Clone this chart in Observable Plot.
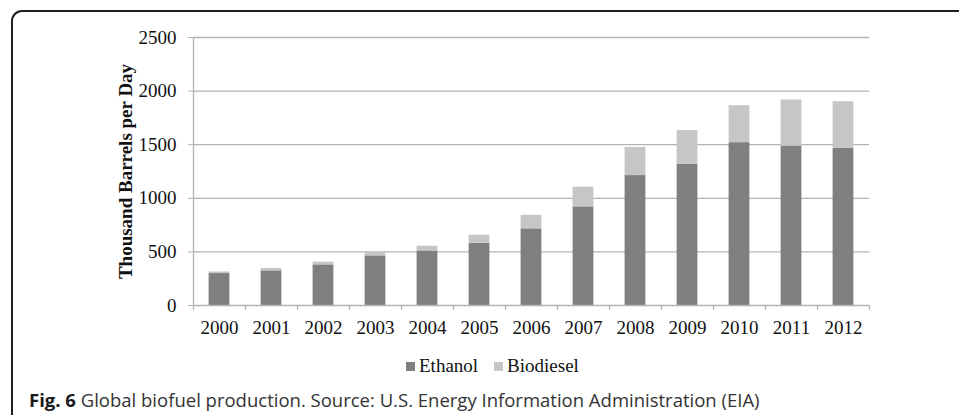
<!DOCTYPE html>
<html>
<head>
<meta charset="utf-8">
<script src="https://cdn.jsdelivr.net/npm/d3@7"></script>
<script src="https://cdn.jsdelivr.net/npm/@observablehq/plot@0.6"></script>
<style>
  html, body { margin: 0; padding: 0; background: #fff; }
  #fig { position: relative; width: 959px; height: 415px; overflow: hidden; background: #fff; }
  #frame {
    position: absolute; left: 11px; top: 10px; right: -20px; bottom: -20px;
    border-left: 2px solid #1e1e1e; border-top: 2px solid #1e1e1e;
    border-top-left-radius: 11px;
  }
  #chart { position: absolute; left: 0; top: 0; }
  #legend {
    position: absolute; left: 406px; top: 356px; height: 20px; line-height: 20px;
    font-family: "Liberation Serif", "Times New Roman", serif; font-size: 19px; color: #111;
    white-space: nowrap;
  }
  #legend .item { display: inline-block; }
  #legend .item + .item { margin-left: 16px; }
  #legend .sw { display: inline-block; width: 9px; height: 9px; margin-right: 4px; vertical-align: 1px; }
  #caption {
    position: absolute; left: 29px; top: 390px; line-height: 20px; white-space: nowrap;
    font-family: "Open Sans", "Noto Sans", sans-serif; font-size: 18.5px; color: #333;
  }
  #caption b { color: #1a1a1a; }
</style>
</head>
<body>
<div id="fig">
  <div id="frame"></div>
  <div id="chart"></div>
  <div id="legend"></div>
  <div id="caption"><b>Fig. 6</b> Global biofuel production. Source: U.S. Energy Information Administration (EIA)</div>
</div>
<script>
// Global biofuel production, thousand barrels per day
const years = [2000, 2001, 2002, 2003, 2004, 2005, 2006, 2007, 2008, 2009, 2010, 2011, 2012];
const ethanol = [298, 323, 379, 463, 509, 581, 715, 920, 1212, 1317, 1519, 1488, 1466];
const biodiesel = [15, 22, 25, 34, 44, 75, 127, 184, 262, 315, 345, 429, 435];
const seriesNames = ["Ethanol", "Biodiesel"];
const seriesColors = ["#7f7f7f", "#c5c6c5"];
const yTicks = [0, 500, 1000, 1500, 2000, 2500];
const yTitle = "Thousand Barrels per Day";

// Long-format table for stacking
const rows = years.flatMap((year, i) => [
  {year, series: "Ethanol", value: ethanol[i]},
  {year, series: "Biodiesel", value: biodiesel[i]}
]);

// Category boundaries (between years) carry the x-axis tick marks
const boundaries = years.map(y => y - 0.5).concat([years[years.length - 1] + 0.5]);
const halfBar = 0.2;
const gridColor = "#b3b3b3";

const chart = Plot.plot({
  width: 959,
  height: 345,
  marginLeft: 193,
  marginRight: 90,
  marginTop: 37,
  marginBottom: 40,
  style: {fontFamily: "Liberation Serif, Times New Roman, serif", fontSize: "19px", color: "#111", background: "transparent"},
  x: {type: "linear", domain: [years[0] - 0.5, years[years.length - 1] + 0.5]},
  y: {domain: [0, 2500]},
  color: {domain: seriesNames, range: seriesColors},
  marks: [
    Plot.gridY(yTicks.filter(d => d > 0), {stroke: gridColor, strokeOpacity: 1, strokeWidth: 1.3}),
    Plot.rectY(rows, {
      x1: d => d.year - halfBar,
      x2: d => d.year + halfBar,
      y: "value",
      fill: "series",
      order: seriesNames
    }),
    Plot.ruleY([0], {stroke: gridColor, strokeWidth: 1.3}),
    Plot.ruleX([boundaries[0]], {y1: 0, y2: 2500, stroke: gridColor, strokeWidth: 1.3}),
    Plot.ruleX(boundaries, {y1: 0, y2: 0, insetBottom: -5, stroke: gridColor, strokeWidth: 1.3}),
    Plot.axisY({ticks: yTicks, tickSize: 5, tickPadding: 12, tickFormat: d => String(d), stroke: gridColor, label: null, fontSize: 19}),
    Plot.axisX({ticks: years, tickSize: 0, tickPadding: 15, tickFormat: d => String(d), label: null, fontSize: 19}),
    Plot.text([yTitle], {
      frameAnchor: "left", dx: -68, rotate: -90, text: d => d,
      fontWeight: "bold", fontSize: 19, fill: "#111", textAnchor: "middle", lineAnchor: "middle"
    })
  ]
});
document.getElementById("chart").appendChild(chart);

// Legend
const legend = document.getElementById("legend");
seriesNames.forEach((name, i) => {
  const item = document.createElement("span");
  item.className = "item";
  const sw = document.createElement("span");
  sw.className = "sw";
  sw.style.background = seriesColors[i];
  item.appendChild(sw);
  item.appendChild(document.createTextNode(name));
  legend.appendChild(item);
});
</script>
</body>
</html>
